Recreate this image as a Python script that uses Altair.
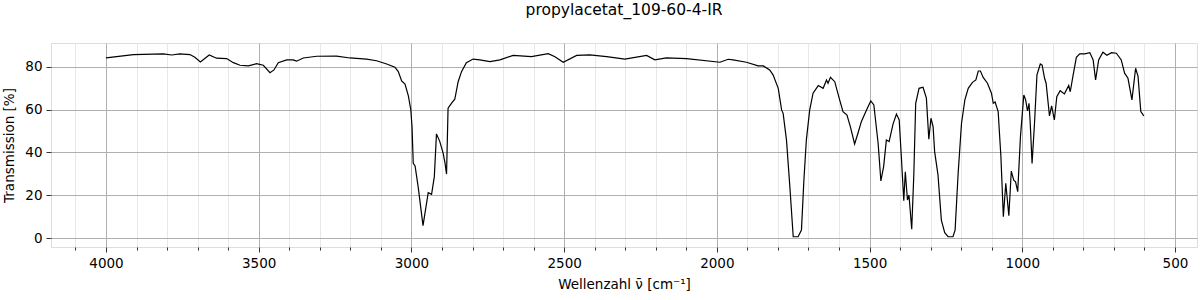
import altair as alt
import pandas as pd

wavenumber = [
    4000, 3910, 3812, 3785, 3758, 3725, 3709, 3691, 3662, 3638, 3605, 3583, 3561, 3534, 3507,
    3485, 3463, 3450, 3436, 3408, 3387, 3376, 3354, 3310, 3245, 3201, 3147, 3114, 3081, 3054,
    3043, 3032, 3021, 3010, 3002, 2998, 2994, 2988, 2978, 2962, 2945, 2934, 2925, 2918, 2907,
    2896, 2890, 2885, 2880, 2869, 2858, 2847, 2836, 2820, 2798, 2776, 2743, 2710, 2667, 2607,
    2552, 2530, 2503, 2459, 2416, 2361, 2301, 2230, 2203, 2165, 2099, 1990, 1963, 1947, 1903,
    1865, 1848, 1827, 1816, 1799, 1788, 1783, 1772, 1761, 1750, 1734, 1723, 1715, 1707, 1696,
    1685, 1668, 1652, 1641, 1636, 1628, 1614, 1598, 1587, 1574, 1563, 1549, 1538, 1527, 1510,
    1496, 1486, 1472, 1463, 1454, 1445, 1436, 1423, 1412, 1403, 1396, 1388, 1383, 1376, 1371,
    1362, 1355, 1349, 1338, 1325, 1314, 1306, 1299, 1292, 1287, 1276, 1265, 1254, 1243, 1227,
    1220, 1210, 1199, 1188, 1177, 1163, 1152, 1144, 1137, 1128, 1114, 1101, 1095, 1089, 1079,
    1070, 1062, 1054, 1044, 1036, 1028, 1022, 1015, 1006, 995, 989, 983, 978, 974, 968,
    960, 952, 941, 935, 927, 922, 911, 904, 895, 887, 876, 862, 848, 843, 834,
    823, 812, 796, 779, 768, 760, 750, 736, 723, 708, 692, 676, 665, 654, 641,
    629, 621, 612, 602,
]
transmission = [
    84.2, 85.8, 86.1, 85.6, 86.1, 85.8, 84.5, 82.3, 85.6, 84.1, 83.9, 82.0, 80.8, 80.5, 81.5,
    80.8, 77.3, 78.6, 82.0, 83.3, 83.3, 82.7, 84.2, 85.0, 85.1, 84.2, 83.7, 82.9, 81.4, 79.9,
    77.8, 73.5, 72.0, 66.5, 60.0, 52.0, 34.9, 33.7, 24.0, 5.8, 21.2, 20.4, 28.7, 48.7, 45.1,
    39.6, 35.0, 29.9, 60.7, 63.0, 64.9, 73.1, 77.8, 82.0, 83.7, 83.3, 82.5, 83.3, 85.4, 84.8,
    86.2, 84.8, 82.2, 85.4, 85.6, 84.8, 83.7, 85.4, 83.3, 84.2, 83.9, 82.2, 83.6, 83.3, 82.2,
    80.5, 80.5, 78.6, 76.3, 70.0, 59.9, 58.3, 45.8, 24.0, 0.6, 0.6, 3.7, 27.1, 45.8, 59.9,
    67.7, 71.3, 70.0, 73.9, 72.4, 75.2, 73.1, 64.6, 59.1, 57.5, 52.1, 44.0, 49.0, 54.4, 59.9,
    64.1, 62.2, 44.3, 26.7, 33.4, 45.8, 45.1, 53.4, 58.0, 55.2, 38.0, 17.5, 31.0, 17.8, 20.1,
    4.1, 30.3, 63.0, 70.0, 70.5, 65.4, 46.2, 56.0, 52.1, 40.4, 29.5, 8.4, 2.5, 0.6, 0.6,
    3.7, 30.3, 53.7, 64.6, 70.0, 72.8, 73.9, 78.1, 78.1, 75.1, 72.4, 67.7, 63.0, 63.6, 59.1,
    38.0, 10.0, 25.6, 10.4, 31.3, 27.1, 26.3, 21.7, 47.4, 66.9, 64.6, 59.4, 63.0, 53.7, 34.9,
    53.7, 76.3, 81.4, 80.9, 74.7, 72.4, 57.1, 61.8, 55.2, 66.1, 68.9, 67.4, 71.3, 68.4, 75.8,
    84.5, 86.1, 86.1, 86.7, 83.3, 73.9, 83.3, 86.9, 85.5, 86.7, 86.4, 83.3, 77.1, 74.7, 64.6,
    79.4, 75.6, 59.1, 57.1,
]

x_ticks = list(range(500, 4101, 100))
y_ticks = [0, 20, 40, 60, 80]

df = pd.DataFrame({"wn": wavenumber, "T": transmission})

FONT = "DejaVu Sans"

x_axis = alt.Axis(
    values=x_ticks,
    format="d",
    labelExpr="datum.value % 500 === 0 ? datum.label : ''",
    labelOverlap=False,
    labelFlush=False,
    grid=True,
    gridColor={"condition": {"test": "datum.value % 500 === 0", "value": "#b0b0b0"}, "value": "#e8e8e8"},
    gridWidth=1,
    tickSize={"condition": {"test": "datum.value % 500 === 0", "value": 5}, "value": 3},
    tickColor="#000000",
    tickWidth=0.8,
    domain=False,
    labelFont=FONT,
    labelFontSize=13.5,
    labelColor="#000000",
    labelPadding=4,
    title="Wellenzahl ν̄ [cm⁻¹]",
    titleFont=FONT,
    titleFontSize=13.5,
    titleFontWeight="normal",
    titleColor="#000000",
    titlePadding=8,
)

y_axis = alt.Axis(
    values=y_ticks,
    grid=True,
    gridColor="#b0b0b0",
    gridWidth=1,
    tickSize=5,
    tickColor="#000000",
    tickWidth=0.8,
    domain=False,
    labelFont=FONT,
    labelFontSize=13.5,
    labelColor="#000000",
    labelPadding=4,
    title="Transmission [%]",
    titleFont=FONT,
    titleFontSize=13.5,
    titleFontWeight="normal",
    titleColor="#000000",
    titlePadding=8,
)

chart = (
    alt.Chart(df)
    .mark_line(color="#000000", strokeWidth=1.2)
    .encode(
        x=alt.X("wn:Q", scale=alt.Scale(domain=[428, 4180], reverse=True, nice=False, zero=False), axis=x_axis),
        y=alt.Y("T:Q", scale=alt.Scale(domain=[-4.2, 91.2], nice=False, zero=False), axis=y_axis),
    )
    .properties(
        width=1146,
        height=204,
        autosize=alt.AutoSizeParams(type="none"),
        padding={"left": 51, "top": 43, "right": 3, "bottom": 53},
        title=alt.TitleParams(
            text="propylacetat_109-60-4-IR",
            font=FONT,
            fontSize=15.5,
            fontWeight="normal",
            color="#000000",
            anchor="middle",
            offset=25,
        ),
    )
    .configure_view(stroke="#000000", strokeWidth=1)
    .configure(background="#ffffff")
)

chart.save("out.html", embed_options={"renderer": "svg", "actions": False})
